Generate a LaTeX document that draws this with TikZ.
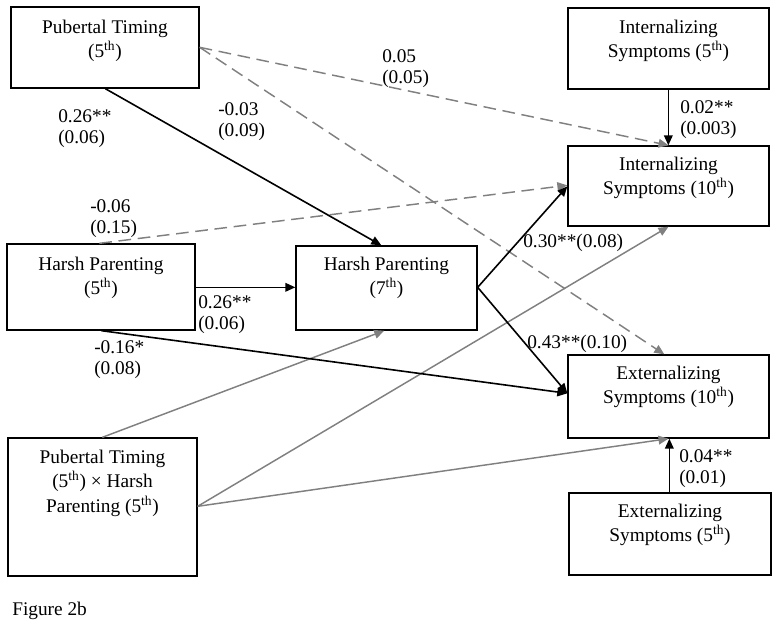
\documentclass[tikz,border=0pt]{standalone}
\usepackage{fontspec}
\setmainfont{Liberation Serif}
\usetikzlibrary{arrows.meta,fit,calc}
\definecolor{lgray}{HTML}{808080}
\tikzset{
  box/.style={draw=black, line width=1pt, inner sep=0pt, rectangle},
  boxtext/.style={inner sep=0pt, align=center, font=\fontsize{14.5}{18.5}\selectfont, anchor=north},
  lbl/.style={inner sep=0pt, align=left, font=\fontsize{14.5}{16}\selectfont, anchor=north west},
  blk/.style={draw=black, line width=1.2pt, -{Triangle[length=7.5pt,width=6.5pt]}},
  gry/.style={draw=lgray, line width=1.1pt, -{Triangle[length=7.5pt,width=6.5pt]}},
  gdash/.style={gry, dash pattern=on 9.5pt off 5pt}
}
\begin{document}
\begin{tikzpicture}[x=0.75pt,y=-0.75pt]
\useasboundingbox (0,0) rectangle (779,627);
% boxes
\node[box, fit={(11,7) (199,88)}] (pt5) {};
\node[box, fit={(568,8) (769,89)}] (is5) {};
\node[box, fit={(568,146) (769,226)}] (is10) {};
\node[box, fit={(7,244) (195,330)}] (hp5) {};
\node[box, fit={(296,246) (477,330)}] (hp7) {};
\node[box, fit={(568,355) (769,438)}] (ex10) {};
\node[box, fit={(8,438) (197,576)}] (ptxhp) {};
\node[box, fit={(569,493) (771,575)}] (ex5) {};
% box texts
\node[boxtext] (pt5t) at ($(pt5.north)+(0,13)$) {Pubertal Timing\\(5\textsuperscript{th})};
\node[boxtext] (is5t) at ($(is5.north)+(0,12)$) {Internalizing\\Symptoms (5\textsuperscript{th})};
\node[boxtext] (is10t) at ($(is10.north)+(0,11)$) {Internalizing\\Symptoms (10\textsuperscript{th})};
\node[boxtext] (hp5t) at ($(hp5.north)+(0,13)$) {Harsh Parenting\\(5\textsuperscript{th})};
\node[boxtext] (hp7t) at ($(hp7.north)+(0,11)$) {Harsh Parenting\\(7\textsuperscript{th})};
\node[boxtext] (ex10t) at ($(ex10.north)+(0,11)$) {Externalizing\\Symptoms (10\textsuperscript{th})};
\node[boxtext] (ptxhpt) at ($(ptxhp.north)+(0,12)$) {Pubertal Timing\\(5\textsuperscript{th}) × Harsh\\Parenting (5\textsuperscript{th})};
\node[boxtext] (ex5t) at ($(ex5.north)+(0,11)$) {Externalizing\\Symptoms (5\textsuperscript{th})};
% connectors
\draw[gdash] ($(pt5.north east)+(0,41)$) -- (is10.north);
\draw[gdash] ($(pt5.north east)+(0,41)$) -- ($(ex10.north west)+(97,0)$);
\draw[gdash] ($(hp5.north west)+(93,0)$) -- ($(is10.north west)+(0,40)$);
\draw[gry] ($(ptxhp.north west)+(95,0)$) -- ($(hp7.south west)+(89,0)$);
\draw[gry] ($(ptxhp.north east)+(0,69)$) -- (is10.south);
\draw[gry] ($(ptxhp.north east)+(0,69)$) -- (ex10.south);
\draw[blk] ($(pt5.south west)+(95,0)$) -- ($(hp7.north west)+(86,0)$);
\draw[blk] ($(hp5.north east)+(0,44)$) -- ($(hp7.north west)+(0,42)$);
\draw[blk] ($(hp5.south west)+(95,0)$) -- ($(ex10.north west)+(0,39)$);
\draw[blk] ($(hp7.north east)+(0,42)$) -- ($(is10.north west)+(0,41)$);
\draw[blk] ($(hp7.north east)+(0,42)$) -- ($(ex10.north west)+(0,39)$);
\draw[blk] ($(is5.south west)+(101,0)$) -- ($(is10.north west)+(101,0)$);
\draw[blk] ($(ex5.north west)+(101,0)$) -- ($(ex10.south west)+(102,0)$);
% labels
\node[lbl] (l1) at (58,109) {0.26**\\(0.06)};
\node[lbl] (l2) at (218,102) {-0.03\\(0.09)};
\node[lbl] (l3) at (382,49) {0.05\\(0.05)};
\node[lbl] (l4) at (90,199) {-0.06\\(0.15)};
\node[lbl] (l5) at (680,100) {0.02**\\(0.003)};
\node[lbl] (l6) at (523,234) {0.30**(0.08)};
\node[lbl] (l7) at (527,335) {0.43**(0.10)};
\node[lbl] (l8) at (198,295) {0.26**\\(0.06)};
\node[lbl] (l9) at (94,340) {-0.16*\\(0.08)};
\node[lbl] (l10) at (679,449) {0.04**\\(0.01)};
\node[lbl] (fig) at (12,602) {Figure 2b};
\end{tikzpicture}
\end{document}
